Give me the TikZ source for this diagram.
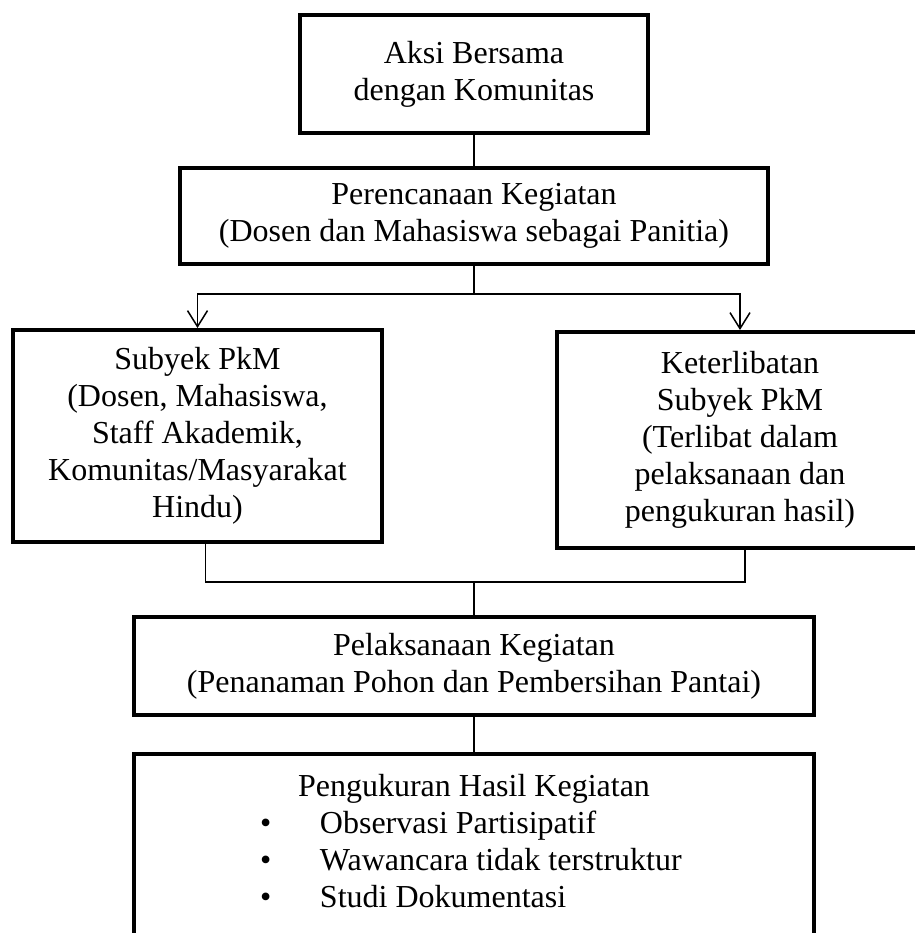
\documentclass[tikz,border=0pt]{standalone}
\usepackage{fontspec}
\setmainfont{Liberation Serif}
\usetikzlibrary{arrows.meta,positioning}

\newcommand{\butir}[1]{\hspace*{63pt}\makebox[30pt][l]{\textbullet}#1}

\begin{document}
\begin{tikzpicture}[x=0.5pt, y=-0.5pt, font=\fontsize{16}{18.5}\selectfont]
    \tikzstyle{box} = [rectangle, draw=black, line width=2pt, align=center, inner sep=0pt]
    \tikzstyle{line} = [line width=0.75pt]
    \tikzstyle{arrow} = [line width=0.75pt, -{Straight Barb[length=8pt,width=10pt]}]

    \useasboundingbox (0,0) rectangle (915,933);

    \node (aksi) [box, minimum width=174pt, minimum height=59pt] at (474,74) {Aksi Bersama\\dengan Komunitas};
    \node (rencana) [box, minimum width=294pt, minimum height=48pt] at (474,216) {Perencanaan Kegiatan\\(Dosen dan Mahasiswa sebagai Panitia)};
    \node (subyek) [box, minimum width=184.5pt, minimum height=106pt] at (197.5,436) {Subyek PkM\\(Dosen, Mahasiswa,\\Staff Akademik,\\Komunitas/Masyarakat\\Hindu)};
    \node (libat) [box, minimum width=183pt, minimum height=108pt] at (740,440) {Keterlibatan\\Subyek PkM\\(Terlibat dalam\\pelaksanaan dan\\pengukuran hasil)};
    \node (laksana) [box, minimum width=340pt, minimum height=49pt] at (474,666) {Pelaksanaan Kegiatan\\(Penanaman Pohon dan Pembersihan Pantai)};
    \node (ukur) [box, anchor=north, text width=340pt, inner ysep=10pt, align=flush left] at (474,752) {\makebox[340pt][c]{Pengukuran Hasil Kegiatan}\\
        \butir{Observasi Partisipatif}\\
        \butir{Wawancara tidak terstruktur}\\
        \butir{Studi Dokumentasi}\\[30pt]\mbox{}};

    \coordinate (pisah) at (474,294);
    \coordinate (gabung) at (474,582);

    \draw [line] (aksi) -- (rencana);
    \draw [line] (rencana) -- (pisah);
    \draw [arrow] (pisah) -| (subyek);
    \draw [arrow] (pisah) -| (libat);
    \draw [line] ([xshift=4pt]subyek.south) |- (gabung);
    \draw [line] ([xshift=2.5pt]libat.south) |- (gabung);
    \draw [line] (gabung) -- (laksana);
    \draw [line] (laksana) -- (ukur);
\end{tikzpicture}
\end{document}
